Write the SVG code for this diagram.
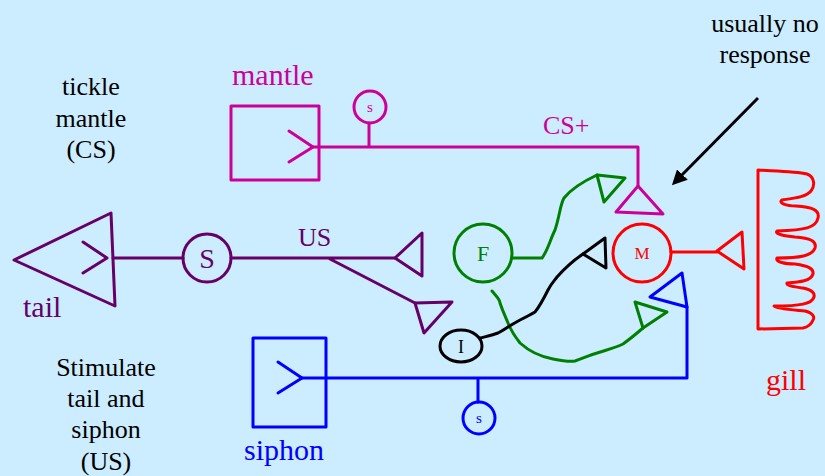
<svg xmlns="http://www.w3.org/2000/svg" width="825" height="476" viewBox="0 0 825 476" font-family="'Liberation Serif', 'DejaVu Serif', serif">
  <defs>
    <marker id="arrowhead" viewBox="0 0 10 10" refX="8" refY="5" markerWidth="5" markerHeight="5" orient="auto">
      <path d="M0,0 L10,5 L0,10 z" fill="#000"/>
    </marker>
  </defs>
  <style>
    text { font-family: 'Liberation Serif', 'DejaVu Serif', serif; }
    .lbl { font-size: 26px; fill: #000; text-anchor: middle; }
    .big { font-size: 30px; }
    .ln { fill: none; stroke-width: 3; stroke-linejoin: round; stroke-linecap: round; }
    .purple { stroke: #660066; }
    .magenta { stroke: #CC0099; }
    .green { stroke: #008000; }
    .red { stroke: #FF0000; }
    .blue { stroke: #0000FF; }
    .black { stroke: #000; }
  </style>
  <rect x="0" y="0" width="825" height="476" fill="#CCECFF"/>

  <!-- side captions -->
  <g id="captions">
    <text class="lbl" x="91" y="95">tickle</text>
    <text class="lbl" x="91" y="127">mantle</text>
    <text class="lbl" x="91" y="158">(CS)</text>
    <text class="lbl" x="106" y="376">Stimulate</text>
    <text class="lbl" x="106" y="407">tail and</text>
    <text class="lbl" x="106" y="438">siphon</text>
    <text class="lbl" x="106" y="470">(US)</text>
    <text class="lbl" x="765" y="32">usually no</text>
    <text class="lbl" x="765" y="63">response</text>
  </g>

  <!-- connectors -->
  <g id="connectors">
    <!-- tail pathway (US) -->
    <path class="ln purple" d="M113,258 H183 M231,258 H395 M330,259 L415,303"/>
    <!-- mantle pathway (CS+) -->
    <path class="ln magenta" d="M313,147 H638 V186 M369,123 V147"/>
    <!-- siphon pathway -->
    <path class="ln blue" d="M302,378 H687 V307 M478,378 V402"/>
    <!-- facilitator to mantle terminal -->
    <path class="ln green" d="M512,258 H542 C548,250 550,240 555,230 C560,215 560,205 564,198 C572,188 582,182 597,175"/>
    <!-- facilitator to siphon terminal -->
    <path class="ln green" d="M492,291 C496,296 500,299 500,303 C503,312 506,318 508,323 C512,333 516,338 520,343 C530,352 542,357 553,359 C563,361 570,362 575,361 C584,358 590,355 597,353 C606,350 615,348 623,344 C630,339 636,334 643,328"/>
    <!-- interneuron to motor neuron -->
    <path class="ln black" d="M480,338 C488,336 493,335 498,333 C502,331 505,329 508,327 C513,324 516,322 520,320 C526,317 530,315 535,312 C540,306 544,298 548,290 C551,284 554,281 557,277 C565,268 574,260 583,254"/>
    <!-- motor neuron to gill -->
    <path class="ln red" d="M671,252 H717"/>
    <!-- pointer -->
    <line x1="758" y1="98" x2="674" y2="183" stroke="#000" stroke-width="3" marker-end="url(#arrowhead)"/>
  </g>

  <!-- tail sensory receptor -->
  <g id="tail">
    <path class="ln purple" d="M14,260 L111,213 L115,306 Z"/>
    <path class="ln purple" d="M83,242 L107,258 L83,273"/>
    <text x="23" y="317" class="big" fill="#660066">tail</text>
  </g>

  <!-- tail sensory neuron S -->
  <g id="tail-sensory">
    <circle class="ln purple" cx="207" cy="258" r="24"/>
    <text x="207" y="268" font-size="28" fill="#660066" text-anchor="middle">S</text>
    <text x="298" y="246" font-size="26" fill="#660066">US</text>
  </g>

  <!-- tail terminals -->
  <g id="us-terminal-1">
    <path class="ln purple" d="M395,258 L422,233 L422,276 Z"/>
  </g>
  <g id="us-terminal-2">
    <path class="ln purple" d="M415,303 L452,302 L424,333 Z"/>
  </g>

  <!-- mantle receptor -->
  <g id="mantle">
    <rect class="ln magenta" x="231" y="106" width="88" height="74" stroke-linejoin="miter"/>
    <path class="ln magenta" d="M289,131 L313,147 L289,162"/>
    <text x="232" y="85" class="big" fill="#CC0099">mantle</text>
  </g>
  <g id="mantle-sensory">
    <circle class="ln magenta" cx="370" cy="107" r="16"/>
    <text x="370" y="112" font-size="15" fill="#CC0099" text-anchor="middle">s</text>
    <text x="543" y="134" font-size="26" fill="#CC0099">CS+</text>
  </g>
  <g id="cs-terminal">
    <path class="ln magenta" d="M638,186 L616,212 L663,214 Z"/>
  </g>

  <!-- siphon receptor -->
  <g id="siphon">
    <rect class="ln blue" x="253" y="338" width="73" height="89" stroke-linejoin="miter"/>
    <path class="ln blue" d="M278,362 L302,378 L278,393"/>
    <text x="244" y="460" class="big" fill="#0000FF">siphon</text>
  </g>
  <g id="siphon-sensory">
    <circle class="ln blue" cx="479" cy="418" r="16"/>
    <text x="479" y="423" font-size="15" fill="#0000FF" text-anchor="middle">s</text>
  </g>
  <g id="siphon-terminal">
    <path class="ln blue" d="M650,297 L682,273 L687,307 Z"/>
  </g>

  <!-- facilitating interneuron -->
  <g id="facilitator">
    <circle class="ln green" cx="483" cy="253" r="29"/>
    <text x="483" y="261" font-size="22" fill="#008000" text-anchor="middle">F</text>
  </g>
  <g id="f-terminal-1">
    <path class="ln green" d="M597,175 L625,178 L604,202 Z"/>
  </g>
  <g id="f-terminal-2">
    <path class="ln green" d="M635,302 L667,312 L643,328 Z"/>
  </g>

  <!-- interneuron -->
  <g id="interneuron">
    <ellipse class="ln black" cx="461" cy="346" rx="21" ry="16"/>
    <text x="461" y="353" font-size="18" fill="#000" text-anchor="middle">I</text>
  </g>
  <g id="i-terminal">
    <path class="ln black" d="M583,254 L605,238 L606,268 Z"/>
  </g>

  <!-- motor neuron -->
  <g id="motor">
    <circle class="ln red" cx="642" cy="253" r="29"/>
    <text x="642" y="259" font-size="17" fill="#FF0000" text-anchor="middle">M</text>
  </g>
  <g id="m-terminal">
    <path class="ln red" d="M717,251 L742,232 L744,269 Z"/>
  </g>

  <!-- gill: straight base with five rounded lobes -->
  <g id="gill">
    <path class="ln red" d="M758,329 V170 C775,171 795,171 807,174 C815,177 815,186 811,191 C806,197 795,198 782,200 C778,203 786,206 796,206 C812,207 820,210 818,218 C816,228 805,230 777,231 C774,234 785,236 795,237 C810,238 817,241 815,248 C812,256 800,258 777,258 C775,262 785,264 795,264 C809,266 814,269 813,274 C811,281 800,282 787,283 C786,286 795,287 803,288 C812,290 815,293 814,297 C812,304 800,306 774,306 C776,309 795,310 805,311 C813,313 815,317 813,320 C811,325 808,327 803,328 Z"/>
    <text x="766" y="390" class="big" fill="#FF0000">gill</text>
  </g>
</svg>
